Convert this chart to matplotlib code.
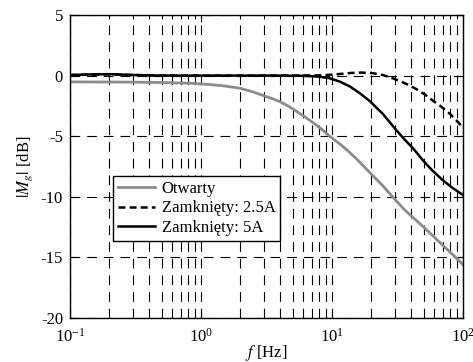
import numpy as np
import matplotlib
matplotlib.use("Agg")
import matplotlib.pyplot as plt

plt.rcParams["font.family"] = "Liberation Serif"
plt.rcParams["mathtext.fontset"] = "stix"
plt.rcParams["lines.scale_dashes"] = False

# Otwarty (open loop)
f_open = [0.1, 0.2, 0.3, 0.5, 0.82, 1.2, 1.5, 2.0, 2.5, 3.0, 3.5, 4.0, 4.7, 5.4, 6.3, 7.2, 8.4,
          9.6, 11.5, 12.9, 15.5, 19.4, 24.0, 29.0, 36.0, 42.0, 49.5, 60.0, 70.0, 85.0, 100.0]
m_open = [-0.52, -0.53, -0.54, -0.57, -0.63, -0.75, -0.85, -1.05, -1.35, -1.65, -1.9, -2.15, -2.55,
          -2.97, -3.45, -3.9, -4.45, -5.0, -5.65, -6.1, -6.9, -8.0, -9.0, -10.0, -11.1, -11.75,
          -12.45, -13.3, -14.0, -14.85, -15.6]

# Zamkniety: 2.5A
f_25 = [0.1, 0.15, 0.2, 0.3, 0.5, 1.0, 2.0, 5.0, 8.0, 10.0, 12.0, 14.0, 16.5, 20.0, 24.4, 28.0,
        33.0, 38.0, 44.6, 51.0, 58.6, 68.0, 79.5, 90.0, 100.0]
m_25 = [0.05, 0.08, 0.1, 0.05, 0.0, 0.0, 0.0, 0.0, 0.02, 0.08, 0.15, 0.22, 0.25, 0.22, 0.05, -0.15,
        -0.45, -0.75, -1.15, -1.55, -2.05, -2.55, -3.15, -3.75, -4.3]

# Zamkniety: 5A
f_5 = [0.1, 0.15, 0.2, 0.3, 0.5, 1.0, 2.0, 4.0, 6.0, 7.0, 8.1, 9.6, 11.5, 13.7, 16.3, 19.4, 24.4,
       30.4, 36.0, 41.6, 49.5, 58.0, 70.4, 84.0, 100.0]
m_5 = [0.05, 0.1, 0.12, 0.05, 0.0, 0.0, 0.0, 0.0, -0.02, -0.05, -0.1, -0.22, -0.5, -0.9, -1.45, -2.1,
       -3.15, -4.4, -5.3, -6.0, -7.0, -7.8, -8.65, -9.3, -9.85]

labels = ["Otwarty", "Zamknięty: 2.5A", "Zamknięty: 5A"]

fig = plt.figure(figsize=(4.73, 3.62), dpi=100)
ax = fig.add_axes([70 / 473, 1 - 318 / 362, 393 / 473, 303 / 362])

ax.semilogx(f_open, m_open, color="0.55", lw=2.0, label=labels[0])
ax.semilogx(f_25, m_25, color="k", lw=1.8, linestyle=(0, (5, 3)), label=labels[1])
ax.semilogx(f_5, m_5, color="k", lw=1.8, label=labels[2])

ax.set_xlim(0.1, 100)
ax.set_ylim(-20, 5)
ax.set_yticks([-20, -15, -10, -5, 0, 5])
ax.set_yticklabels(["-20", "-15", "-10", "-5", "0", "5"])

ax.grid(True, which="major", color="k", lw=0.8, linestyle=(0, (7, 5)))
ax.grid(True, which="minor", axis="x", color="k", lw=0.8, linestyle=(0, (7, 5)))

ax.tick_params(which="both", direction="in", top=True, right=True, labelsize=12)
ax.tick_params(which="major", length=5)
ax.tick_params(which="minor", length=3)
ax.tick_params(axis="x", which="both", pad=7)
ax.tick_params(axis="y", which="both", pad=5)
for s in ax.spines.values():
    s.set_linewidth(1.0)

ax.set_xlabel(r"$f$ [Hz]", fontsize=12, labelpad=-2)
ax.set_ylabel(r"$|M_g|$ [dB]", fontsize=12, labelpad=4)

leg = ax.legend(loc="lower left", bbox_to_anchor=(0.11, 0.255), fontsize=12,
                frameon=True, fancybox=False, edgecolor="k", framealpha=1,
                borderpad=0.3, labelspacing=0.2, handlelength=2.2, handletextpad=0.4,
                borderaxespad=0)
leg.get_frame().set_linewidth(1.0)

fig.savefig("out.png", dpi=100)
